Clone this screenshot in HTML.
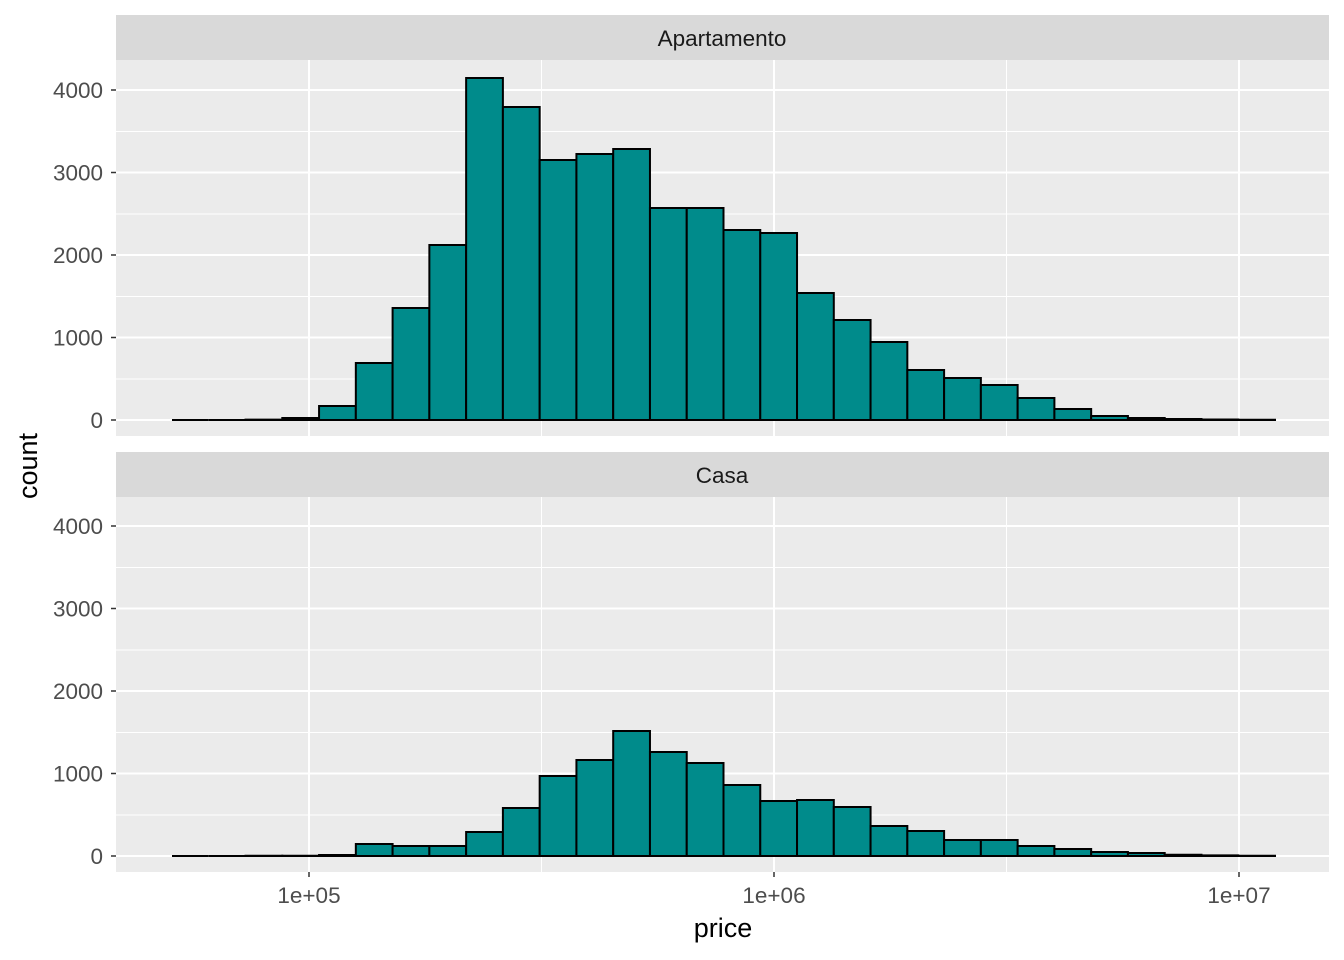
<!DOCTYPE html>
<html><head><meta charset="utf-8"><style>body{margin:0;background:#fff}svg{display:block}</style></head>
<body>
<svg width="1344" height="960" xmlns="http://www.w3.org/2000/svg" font-family="Liberation Sans, sans-serif">
<rect width="1344" height="960" fill="#fff"/>
<rect x="116" y="15" width="1213" height="45" fill="#D9D9D9"/>
<text x="722" y="46" font-size="22.5" text-anchor="middle" fill="#1A1A1A">Apartamento</text>
<rect x="116" y="60" width="1213" height="376" fill="#EBEBEB"/>
<g stroke="#fff" stroke-width="1">
<line x1="116" x2="1329" y1="379" y2="379"/><line x1="116" x2="1329" y1="296.5" y2="296.5"/><line x1="116" x2="1329" y1="214" y2="214"/><line x1="116" x2="1329" y1="131.5" y2="131.5"/>
<line x1="541.5" x2="541.5" y1="60" y2="436"/><line x1="1006.5" x2="1006.5" y1="60" y2="436"/>
</g>
<g stroke="#fff" stroke-width="2">
<line x1="116" x2="1329" y1="420" y2="420"/><line x1="116" x2="1329" y1="337.5" y2="337.5"/><line x1="116" x2="1329" y1="255" y2="255"/><line x1="116" x2="1329" y1="172.5" y2="172.5"/><line x1="116" x2="1329" y1="90" y2="90"/>
<line x1="309" x2="309" y1="60" y2="436"/><line x1="774" x2="774" y1="60" y2="436"/><line x1="1239" x2="1239" y1="60" y2="436"/>
</g>
<rect x="116" y="452" width="1213" height="45" fill="#D9D9D9"/>
<text x="722" y="483" font-size="22.5" text-anchor="middle" fill="#1A1A1A">Casa</text>
<rect x="116" y="497" width="1213" height="375" fill="#EBEBEB"/>
<g stroke="#fff" stroke-width="1">
<line x1="116" x2="1329" y1="815" y2="815"/><line x1="116" x2="1329" y1="732.5" y2="732.5"/><line x1="116" x2="1329" y1="650" y2="650"/><line x1="116" x2="1329" y1="567.5" y2="567.5"/>
<line x1="541.5" x2="541.5" y1="497" y2="872"/><line x1="1006.5" x2="1006.5" y1="497" y2="872"/>
</g>
<g stroke="#fff" stroke-width="2">
<line x1="116" x2="1329" y1="856" y2="856"/><line x1="116" x2="1329" y1="773.5" y2="773.5"/><line x1="116" x2="1329" y1="691" y2="691"/><line x1="116" x2="1329" y1="608.5" y2="608.5"/><line x1="116" x2="1329" y1="526" y2="526"/>
<line x1="309" x2="309" y1="497" y2="872"/><line x1="774" x2="774" y1="497" y2="872"/><line x1="1239" x2="1239" y1="497" y2="872"/>
</g>
<g fill="#008B8B" stroke="#000" stroke-width="2" id="bars"></g>
<g stroke="#333" stroke-width="1.5">
<line x1="111" x2="116" y1="420" y2="420"/><line x1="111" x2="116" y1="337.5" y2="337.5"/><line x1="111" x2="116" y1="255" y2="255"/><line x1="111" x2="116" y1="172.5" y2="172.5"/><line x1="111" x2="116" y1="90" y2="90"/>
<line x1="111" x2="116" y1="856" y2="856"/><line x1="111" x2="116" y1="773.5" y2="773.5"/><line x1="111" x2="116" y1="691" y2="691"/><line x1="111" x2="116" y1="608.5" y2="608.5"/><line x1="111" x2="116" y1="526" y2="526"/>
<line x1="309" x2="309" y1="872" y2="877"/><line x1="774" x2="774" y1="872" y2="877"/><line x1="1239" x2="1239" y1="872" y2="877"/>
</g>
<g font-size="22.5" fill="#4D4D4D" text-anchor="end">
<text x="103" y="428">0</text><text x="103" y="345.5">1000</text><text x="103" y="263">2000</text><text x="103" y="180.5">3000</text><text x="103" y="98">4000</text>
<text x="103" y="864">0</text><text x="103" y="781.5">1000</text><text x="103" y="699">2000</text><text x="103" y="616.5">3000</text><text x="103" y="534">4000</text>
</g>
<g font-size="22.5" fill="#4D4D4D" text-anchor="middle">
<text x="309" y="903">1e+05</text><text x="774" y="903">1e+06</text><text x="1239" y="903">1e+07</text>
</g>
<text x="723" y="937" font-size="27" text-anchor="middle" fill="#000">price</text>
<text transform="translate(37,466) rotate(-90)" font-size="27" text-anchor="middle" fill="#000">count</text>
</svg>
<script>
var t1=[420,420,419.6,418,406,363,308,245,78,107,160,154,149,208,208,230,233,293,320,342,370,378,385,398,409,416,418,419,419.5,419.8];
var t2=[856,856,855.8,855.7,855,844,846,846,832,808,776,760,731,752,763,785,801,800,807,826,831,840,840,846,849,852,853,854.8,855.4,855.8];
var g=document.getElementById('bars'),s='',w=1103/30;
function bar(x,t,b){return '<path d="M'+x+' '+b+'V'+t+'H'+(x+w)+'V'+b+'Z"/>';}
for(var i=0;i<30;i++){var x=172+i*w;s+=bar(x,t1[i],420)+bar(x,t2[i],856);}
g.innerHTML=s;
</script>
</body></html>
